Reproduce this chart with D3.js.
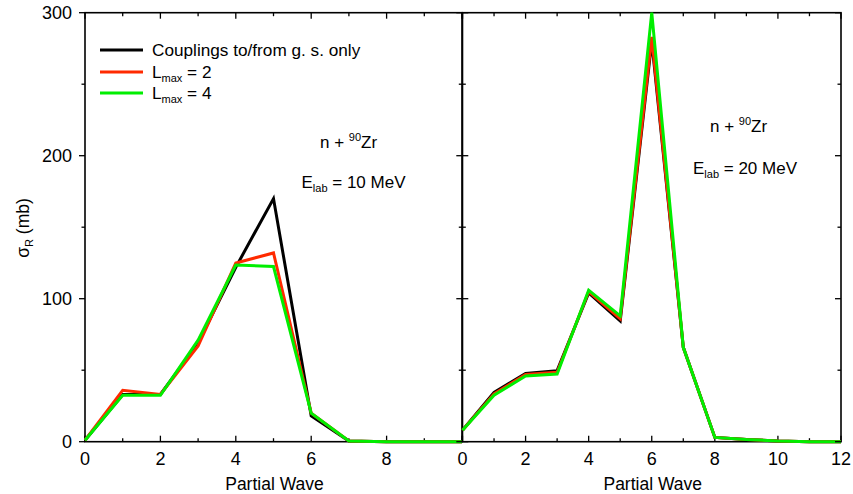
<!DOCTYPE html>
<html><head><meta charset="utf-8">
<script src="https://cdn.jsdelivr.net/npm/d3@7"></script>
<style>
body{margin:0;background:#fff;}
text{font-family:"Liberation Sans",Arial,Helvetica,sans-serif;fill:#000;}
</style></head>
<body><svg id="c" width="853" height="494"></svg>
<script>
// Partial wave index
const L10 = [0,1,2,3,4,5,6,7,8,9,10];
const gs10   = [1,33,33,69,122,170,18,0.5,0,0,0];
const lmax2_10 = [1,36,33,67,125,132,20,0.5,0,0,0];
const lmax4_10 = [1,32.5,32.5,71,123.5,122.5,20,0.5,0,0,0];

const L20 = [0,1,2,3,4,5,6,7,8,9,10,11,12];
const gs20   = [8,34.5,47.8,49.7,104,84.5,280,66,3,1.5,0.5,0,0];
const lmax2_20 = [8,33.5,47,48.5,105,86,283,66,3,1.5,0.5,0,0];
const lmax4_20 = [8,32.5,46,47.3,106,88,300,66,3,1.5,0.5,0,0];

const seriesNames = ["Couplings to/from g. s. only","L_max = 2","L_max = 4"];
const colors = ["#000000","#ff2a00","#00ee00"];
const xTicksLeft = [0,2,4,6,8];
const xTicksRight = [0,2,4,6,8,10,12];
const yTicks = [0,100,200,300];

const svg = d3.select("#c");
const yTop=12.7, yBot=441.7;
const y = d3.scaleLinear().domain([0,300]).range([yBot,yTop]);
const xL = d3.scaleLinear().domain([0,10]).range([85,462]);
const xR = d3.scaleLinear().domain([0,12]).range([462.5,841]);

function panel(x, xs, series, ticks){
  const g = svg.append("g");
  const x0=x.range()[0], x1=x.range()[1];
  g.append("rect").attr("x",x0).attr("y",yTop).attr("width",x1-x0).attr("height",yBot-yTop)
   .attr("fill","none").attr("stroke","#000").attr("stroke-width",1.6);
  const majors = d3.range(x.domain()[0], x.domain()[1]+1, 2);
  const minors = d3.range(1, x.domain()[1], 2);
  majors.forEach(v=>{
    g.append("line").attr("x1",x(v)).attr("x2",x(v)).attr("y1",yBot).attr("y2",yBot-6).attr("stroke","#000").attr("stroke-width",1.3);
    g.append("line").attr("x1",x(v)).attr("x2",x(v)).attr("y1",yTop).attr("y2",yTop+6).attr("stroke","#000").attr("stroke-width",1.3);
  });
  minors.forEach(v=>{
    g.append("line").attr("x1",x(v)).attr("x2",x(v)).attr("y1",yBot).attr("y2",yBot-3.5).attr("stroke","#000").attr("stroke-width",1.3);
    g.append("line").attr("x1",x(v)).attr("x2",x(v)).attr("y1",yTop).attr("y2",yTop+3.5).attr("stroke","#000").attr("stroke-width",1.3);
  });
  ticks.forEach(v=>{
    g.append("text").attr("x",x(v)).attr("y",465).attr("text-anchor","middle").attr("font-size",18).text(v);
  });
  g.append("text").attr("x",(x0+x1)/2+1).attr("y",490).attr("text-anchor","middle").attr("font-size",17.5).text("Partial Wave");
  const line = d3.line().x((d,i)=>x(xs[i])).y(d=>y(d));
  series.forEach((s,k)=>{
    g.append("path").attr("d",line(s)).attr("fill","none").attr("stroke",colors[k])
     .attr("stroke-width",3).attr("stroke-linejoin","miter");
  });
  return g;
}

function yTicksAt(xpos, dir){
  [0,50,100,150,200,250,300].forEach(v=>{
    const len = (v%100===0)?6:3.5;
    let a,b;
    if(dir===0){a=xpos-len;b=xpos+len;}
    else {a=xpos-len;b=xpos;}
    svg.append("line").attr("x1",a).attr("x2",b).attr("y1",y(v)).attr("y2",y(v)).attr("stroke","#000").attr("stroke-width",1.3);
  });
}

panel(xL, L10, [gs10,lmax2_10,lmax4_10], xTicksLeft);
panel(xR, L20, [gs20,lmax2_20,lmax4_20], xTicksRight);
yTicksAt(85,-1);
yTicksAt(462.3,0);
yTicksAt(841,1);

yTicks.forEach(v=>{
  svg.append("text").attr("x",72).attr("y",y(v)).attr("dy","0.36em").attr("text-anchor","end").attr("font-size",18).text(v);
});

const yt = svg.append("text").attr("transform","translate(29,228) rotate(-90)").attr("text-anchor","middle").attr("font-size",17.5);
yt.append("tspan").text("σ");
yt.append("tspan").attr("font-size",11).attr("dy",4).text("R");
yt.append("tspan").attr("dy",-4).text(" (mb)");

const legY = [50,72,93];
seriesNames.forEach((n,i)=>{
  svg.append("line").attr("x1",100).attr("x2",143).attr("y1",legY[i]).attr("y2",legY[i]).attr("stroke",colors[i]).attr("stroke-width",3);
  const t = svg.append("text").attr("x",152).attr("y",legY[i]+6).attr("font-size",17.2);
  if(n.startsWith("L_max")){
    const parts = n.split("_max");
    t.append("tspan").text(parts[0]);
    t.append("tspan").attr("font-size",11).attr("dy",4).text("max");
    t.append("tspan").attr("dy",-4).text(parts[1]);
  } else t.text(n);
});

function annot(xa, ya, xb, yb, energy){
  const t1 = svg.append("text").attr("x",xa).attr("y",ya).attr("font-size",17);
  t1.append("tspan").text("n + ");
  t1.append("tspan").attr("font-size",11).attr("dy",-7).text("90");
  t1.append("tspan").attr("dy",7).text("Zr");
  const t2 = svg.append("text").attr("x",xb).attr("y",yb).attr("font-size",17);
  t2.append("tspan").text("E");
  t2.append("tspan").attr("font-size",11).attr("dy",4).text("lab");
  t2.append("tspan").attr("dy",-4).text(" = " + energy + " MeV");
}
annot(320,148,301.5,188,10);
annot(710,132,693,174,20);
</script></body></html>
